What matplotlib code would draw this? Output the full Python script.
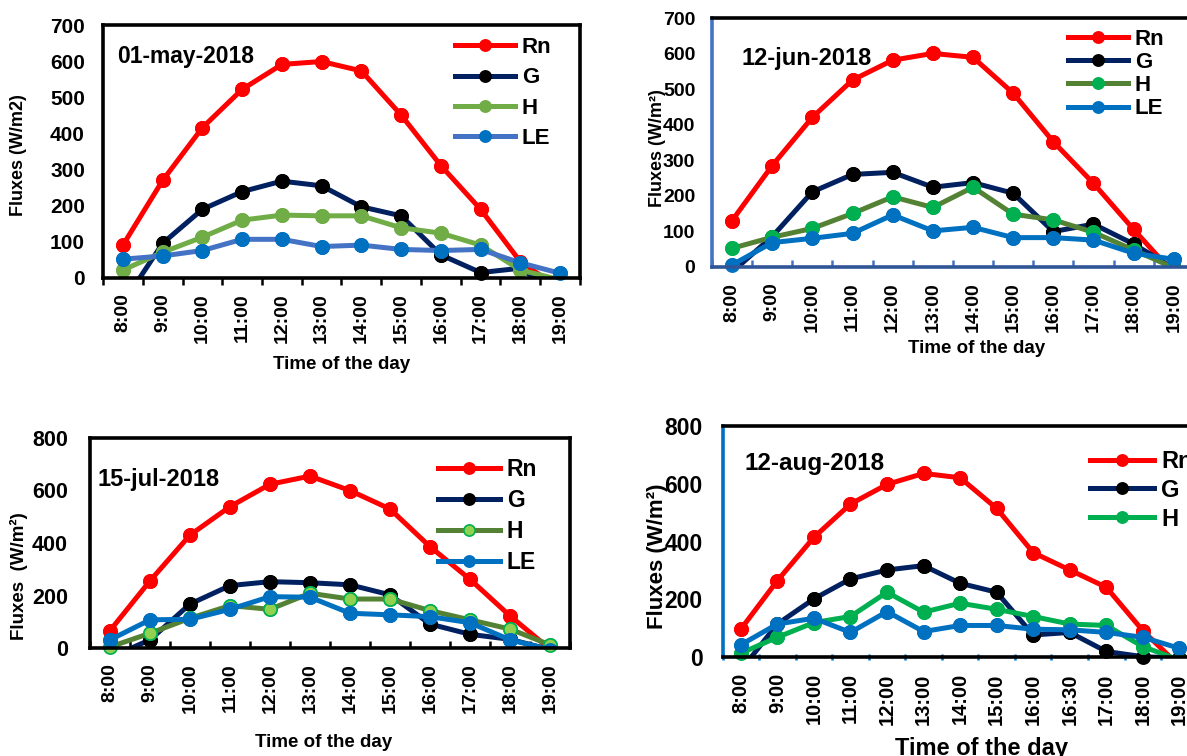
import matplotlib
matplotlib.use('Agg')
import matplotlib.pyplot as plt
import numpy as np

plt.rcParams['font.family'] = ['Liberation Sans', 'DejaVu Sans']
plt.rcParams['font.weight'] = 'bold'
plt.rcParams['axes.labelweight'] = 'bold'

# time of the day (categories)
hours = ['8:00', '9:00', '10:00', '11:00', '12:00', '13:00', '14:00',
         '15:00', '16:00', '17:00', '18:00', '19:00']
hours_aug = ['8:00', '9:00', '10:00', '11:00', '12:00', '13:00', '14:00',
             '15:00', '16:00', '16:30', '17:00', '18:00', '19:00']

# 01-may-2018
may_rn = [91, 270, 416, 522, 591, 599, 573, 451, 311, 190, 45, -30]
may_g = [-70, 96, 190, 239, 268, 255, 197, 172, 64, 15, 27, -50]
may_h = [22, 71, 113, 160, 174, 172, 172, 139, 124, 91, 22, -5]
may_le = [52, 61, 76, 107, 107, 87, 91, 79, 76, 79, 42, 13]

# 12-jun-2018
jun_rn = [130, 285, 421, 526, 582, 601, 590, 489, 352, 235, 105, -20]
jun_g = [-15, 85, 211, 260, 266, 224, 237, 207, 99, 120, 64, -5]
jun_h = [52, 83, 108, 150, 197, 167, 224, 148, 132, 97, 47, -3]
jun_le = [5, 68, 80, 94, 146, 101, 111, 82, 82, 75, 38, 21]

# 15-jul-2018
jul_rn = [67, 256, 430, 538, 623, 654, 599, 529, 386, 262, 123, -3]
jul_g = [-35, 32, 168, 238, 253, 249, 241, 203, 92, 53, 34, -5]
jul_h = [5, 57, 114, 162, 148, 209, 187, 187, 143, 108, 73, 13]
jul_le = [32, 108, 110, 148, 196, 194, 133, 127, 120, 97, 32, -5]

# 12-aug-2018
aug_rn = [97, 265, 415, 530, 598, 636, 621, 515, 362, 302, 242, 92, -30]
aug_g = [-45, 115, 202, 271, 302, 317, 256, 225, 77, 86, 20, 2, -3]
aug_h = [14, 69, 120, 141, 225, 156, 187, 166, 141, 115, 110, 37, -10]
aug_le = [43, 115, 135, 86, 158, 89, 110, 110, 97, 95, 86, 69, 31]

RED = '#FF0000'
NAVY = '#002060'
BLUE = '#0070C0'

fig = plt.figure(figsize=(11.87, 7.56), dpi=100)


def panel(rect, labels, series, ymax, ystep, title, title_xy, title_fs,
          ylabel, ylab_xy, ylab_fs, xlab_xy, xlab_fs, ytick_fs, xtick_fs,
          ypad, xpad, leg_xy, leg_fs, leg_space, tick_dir, tick_col,
          left_col='black', bottom_col='black', legend_n=4):
    ax = fig.add_axes(rect)
    x = np.arange(len(labels))
    lines = []
    for name, vals, lc, mfc, mec in series:
        v = np.array(vals, dtype=float)
        ln, = ax.plot(x, v, color=lc, lw=3.6, marker='o', ms=9.5,
                      mfc=mfc, mec=mec, mew=1.2, label=name)
        # markers sitting on the axis line are not cut in half
        ax.plot(x, np.where(v >= 0, v, np.nan), ls='none', marker='o',
                ms=9.5, mfc=mfc, mec=mec, mew=1.2, clip_on=False,
                zorder=ln.get_zorder())
        lines.append(ln)

    ax.set_xlim(-0.5, len(labels) - 0.5)
    ax.set_ylim(0, ymax)
    ax.set_yticks(np.arange(0, ymax + 1, ystep))
    ax.set_xticks(x)
    ax.set_xticklabels(labels, rotation=90, fontsize=xtick_fs)
    ax.set_xticks(np.arange(len(labels) + 1) - 0.5, minor=True)
    ax.tick_params(axis='x', which='major', length=0, pad=xpad)
    ax.tick_params(axis='x', which='minor', length=5, width=1.8,
                   direction=tick_dir, color=tick_col)
    ax.tick_params(axis='y', length=0, pad=ypad, labelsize=ytick_fs)

    for s in ax.spines.values():
        s.set_linewidth(2.6)
        s.set_color('black')
    ax.spines['left'].set_color(left_col)
    ax.spines['bottom'].set_color(bottom_col)

    ax.text(title_xy[0], title_xy[1], title, transform=ax.transAxes,
            fontsize=title_fs, fontweight='bold', va='center', ha='left')

    ax.set_ylabel(ylabel, fontsize=ylab_fs)
    ax.yaxis.set_label_coords(*ylab_xy)
    ax.set_xlabel('Time of the day', fontsize=xlab_fs)
    ax.xaxis.set_label_coords(*xlab_xy)

    ax.legend(handles=lines[:legend_n], loc='upper left',
              bbox_to_anchor=leg_xy, frameon=False, fontsize=leg_fs,
              borderpad=0, borderaxespad=0, handlelength=2.7,
              handletextpad=0.3, labelspacing=leg_space, markerscale=0.85)
    return ax


panel([0.0868, 0.6323, 0.4018, 0.3346], hours,
      [('Rn', may_rn, RED, RED, RED),
       ('G', may_g, NAVY, 'black', 'black'),
       ('H', may_h, '#70AD47', '#70AD47', '#70AD47'),
       ('LE', may_le, '#4472C4', BLUE, BLUE)],
      700, 100, '01-may-2018', (0.029, 0.874), 16.5,
      'Fluxes (W/m2)', (-0.159, 0.486), 13, (0.5, -0.308), 13.5, 15, 14,
      13, 10.8, (0.738, 0.952), 16, 0.42, 'out', 'black')

panel([0.5998, 0.6472, 0.406, 0.3286], hours,
      [('Rn', jun_rn, RED, RED, RED),
       ('G', jun_g, NAVY, 'black', 'black'),
       ('H', jun_h, '#548235', '#00B050', '#00B050'),
       ('LE', jun_le, BLUE, BLUE, BLUE)],
      700, 100, '12-jun-2018', (0.062, 0.84), 17,
      'Fluxes (W/m²)', (-0.095, 0.478), 13, (0.55, -0.295), 13.5, 14, 14,
      12, 11.5, (0.739, 0.958), 16, 0.1, 'in', '#4472C4',
      left_col='#4472C4', bottom_col='#2F5597')

panel([0.0758, 0.1425, 0.4044, 0.2786], hours,
      [('Rn', jul_rn, RED, RED, RED),
       ('G', jul_g, NAVY, 'black', 'black'),
       ('H', jul_h, '#548235', '#92D050', '#00B050'),
       ('LE', jul_le, BLUE, BLUE, BLUE)],
      800, 200, '15-jul-2018', (0.015, 0.80), 17,
      'Fluxes  (W/m²)', (-0.129, 0.343), 13.5, (0.4875, -0.407), 13.5, 15.5, 14,
      16, 10.8, (0.725, 0.905), 16.5, 0.35, 'in', 'black')

panel([0.6087, 0.1306, 0.4003, 0.3059], hours_aug,
      [('Rn', aug_rn, RED, RED, RED),
       ('G', aug_g, NAVY, 'black', 'black'),
       ('H', aug_h, '#00B050', '#00B050', '#00B050'),
       ('LE', aug_le, BLUE, BLUE, BLUE)],
      800, 200, '12-aug-2018', (0.047, 0.84), 17.5,
      'Fluxes (W/m²)', (-0.115, 0.438), 16, (0.544, -0.345), 17, 16.5, 14.5,
      14.4, 11.5, (0.774, 0.897), 17, 0.25, 'inout', BLUE,
      left_col=BLUE, legend_n=3)

fig.savefig('out.png', dpi=100)
